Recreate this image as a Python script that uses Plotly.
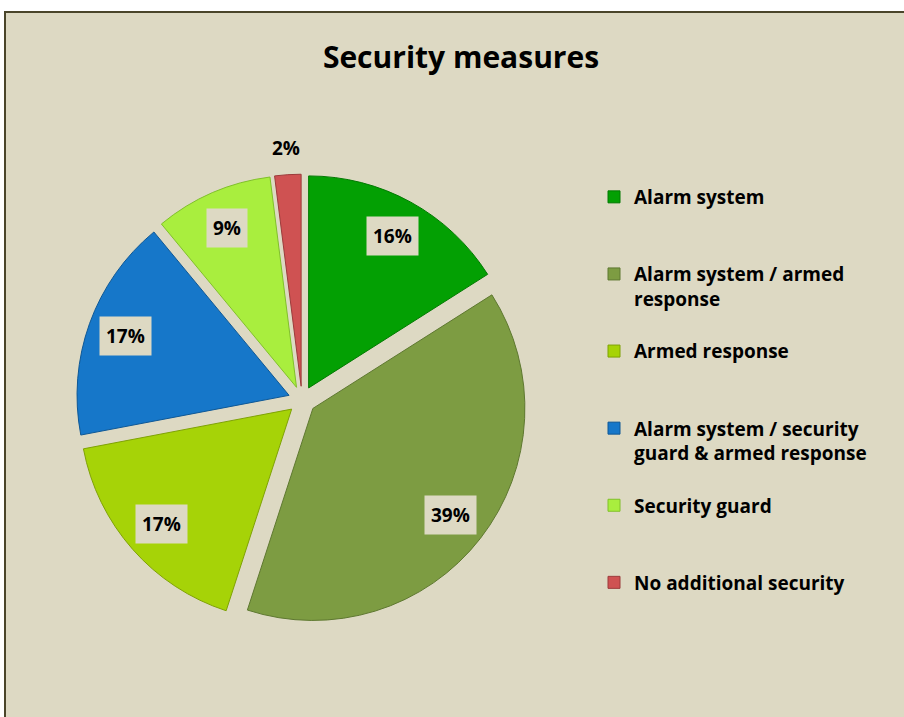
import math
import plotly.graph_objects as go

# ---- data ----
categories = [
    "Alarm system",
    "Alarm system / armed response",
    "Armed response",
    "Alarm system / security guard & armed response",
    "Security guard",
    "No additional security",
]
legend_labels = [
    "Alarm system",
    "Alarm system / armed<br>response",
    "Armed response",
    "Alarm system / security<br>guard & armed response",
    "Security guard",
    "No additional security",
]
values = [16, 39, 17, 17, 9, 2]
colors = ["#03a003", "#7d9c42", "#a6d307", "#1677c9", "#a9ee3e", "#cf5252"]
edge_colors = ["#027a02", "#5e7830", "#7fa205", "#0e5896", "#80c02a", "#9c3b3b"]
title_text = "Security measures"

# ---- layout constants ----
W, H = 904, 717
BG = "#ddd9c3"
FONT = "Open Sans"
cx, cy = 302, 400          # pie centre (px)
R = 212                    # slice radius (px)
PULL = 0.065
box = R * (1 + PULL)       # half size of pie domain

def legend_text(s, n=3):
    k = s.count("<br>") + 1
    bold = "<br>".join(f"<b>{p}</b>" for p in s.split("<br>"))
    return bold + "<br> " * (n - k)

fig = go.Figure()
fig.add_trace(go.Pie(
    labels=[legend_text(l) for l in legend_labels],
    values=values,
    sort=False,
    direction="clockwise",
    rotation=0,
    pull=[PULL] * len(values),
    marker=dict(colors=colors, line=dict(color=edge_colors, width=1)),
    textinfo="none",
    hoverinfo="label+percent",
    domain=dict(x=[(cx - box) / W, (cx + box) / W],
                y=[1 - (cy + box) / H, 1 - (cy - box) / H]),
    showlegend=True,
))

# data labels placed from the cumulative values
total = sum(values)
annotations = []
cum = 0
for v in values:
    mid = (cum + v / 2) / total * 2 * math.pi
    cum += v
    pct = f"{round(100 * v / total)}%"
    if v / total < 0.05:
        r = R * (1 + PULL) + 27
        bg = "rgba(0,0,0,0)"
    else:
        r = 0.82 * R + R * PULL
        bg = BG
    px = cx + r * math.sin(mid)
    py = cy - r * math.cos(mid)
    annotations.append(dict(
        x=px / W, y=1 - py / H, xref="paper", yref="paper",
        text=f"<b>{pct}</b>", showarrow=False,
        font=dict(family=FONT, size=19, color="#000000"),
        bgcolor=bg, borderpad=6, xanchor="center", yanchor="middle",
    ))

fig.update_layout(
    width=W, height=H,
    margin=dict(l=0, r=0, t=0, b=0),
    paper_bgcolor="#ffffff",
    plot_bgcolor="#ffffff",
    title=dict(text=f"<b>{title_text}</b>", x=461 / W, y=1 - 57 / H,
               xanchor="center", yanchor="middle",
               font=dict(family=FONT, size=30, color="#000000")),
    legend=dict(
        x=594 / W, y=1 - 178 / H, xanchor="left", yanchor="top",
        font=dict(family=FONT, size=19, color="#000000"),
        valign="top", bgcolor="rgba(0,0,0,0)", borderwidth=0,
        traceorder="normal",
    ),
    annotations=annotations,
    shapes=[dict(type="rect", xref="paper", yref="paper",
                 x0=5 / W, x1=1.1, y0=-0.1, y1=1 - 12 / H,
                 fillcolor=BG, line=dict(color="#4a452a", width=2),
                 layer="below")],
)

fig.write_html("out.html",
               config={"displayModeBar": False},
               post_script="document.body.style.margin='0';document.body.style.overflow='hidden';")
